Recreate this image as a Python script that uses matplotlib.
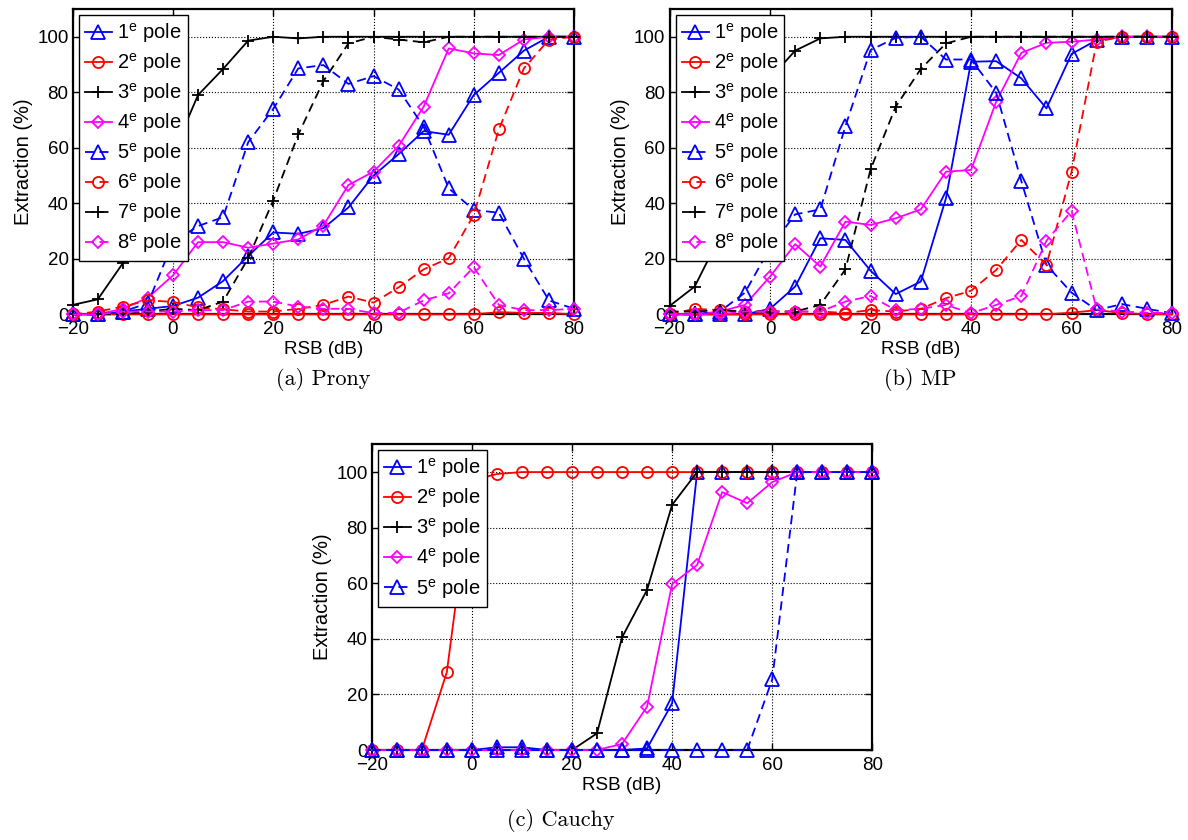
import matplotlib
matplotlib.use('Agg')
import matplotlib.pyplot as plt

plt.rcParams['font.family'] = ['Liberation Sans', 'DejaVu Sans']
plt.rcParams['mathtext.fontset'] = 'custom'
plt.rcParams['mathtext.rm'] = 'Liberation Sans'
plt.rcParams['mathtext.it'] = 'Liberation Sans:italic'

rsb = [-20, -15, -10, -5, 0, 5, 10, 15, 20, 25, 30, 35, 40, 45, 50, 55, 60, 65, 70, 75, 80]

# (a) Prony
prony_p1 = [0, 0, 1, 2, 3, 6, 12, 21, 29.5, 29, 31, 38.5, 50, 57.7, 66, 64.7, 79, 87, 95, 100, 100]
prony_p2 = [0, 0, 0, 0, 0, 0, 0, 0, 0, 0, 0, 0, 0, 0, 0, 0, 0, 0.8, 0.5, 0.5, 0]
prony_p3 = [3.4, 5.4, 18.4, 40, 58, 79, 88.4, 98.6, 100, 99.4, 100, 100, 100, 100, 100, 100, 100, 100, 100, 100, 100]
prony_p4 = [0, 0, 2, 6, 14, 26, 26, 24, 25.5, 27, 32, 46.6, 51.4, 60.6, 74.8, 95.8, 94, 93.4, 99, 100, 100]
prony_p5 = [0, 0, 1, 4, 26, 31.8, 35, 62, 74, 88.6, 89.8, 83, 85.8, 81, 67.6, 45.4, 37.6, 36.6, 20, 5, 2]
prony_p6 = [0, 1, 2.8, 5, 4.5, 2.5, 1.8, 1, 1, 2, 3.4, 6.4, 4.2, 9.7, 16.2, 20.2, 35.8, 66.6, 88.6, 99, 100]
prony_p7 = [0, 0, 0, 1, 2, 1.5, 4.6, 20.2, 41, 64.8, 84, 97.6, 100, 99, 98, 100, 100, 100, 100, 100, 100]
prony_p8 = [0, 0, 1, 1, 1, 1.5, 1.5, 4.6, 4.6, 2.8, 2, 2, 0.4, 0.6, 5, 7.6, 17, 3.4, 1.5, 1.5, 2]

# (b) MP
mp_p1 = [0, 0, 0, 0, 2, 10, 27.4, 26.8, 15.7, 7.3, 11.8, 41.8, 91, 91.2, 85, 74.2, 93.8, 98.8, 100, 100, 100]
mp_p2 = [0, 0, 0, 0, 0, 0, 0, 0, 0, 0, 0, 0, 0, 0, 0, 0, 0.6, 1.5, 0.5, 0, 0]
mp_p3 = [3, 10, 28, 60, 85, 95, 99.4, 100, 100, 100, 100, 100, 100, 100, 100, 100, 100, 100, 100, 100, 100]
mp_p4 = [0, 0, 1, 3.4, 13.6, 25.3, 17.2, 33.4, 32.2, 34.6, 37.8, 51.4, 52, 76.6, 94.2, 97.8, 98.2, 99, 100, 100, 100]
mp_p5 = [0, 0, 1, 7.8, 24, 36, 37.8, 67.8, 95.2, 99.6, 100, 91.8, 91.8, 79.8, 48, 17.8, 7.8, 1.5, 3.7, 2, 0.4]
mp_p6 = [0, 2, 1.5, 1, 1, 1, 1, 0.5, 1.5, 1, 2, 5.8, 8.5, 16, 26.8, 17.8, 51.4, 98.2, 100, 100, 100]
mp_p7 = [1, 1, 1.5, 1, 1, 1, 3.4, 16.2, 52.2, 74.8, 88.4, 97.6, 100, 100, 100, 100, 100, 100, 100, 100, 100]
mp_p8 = [0, 0, 0, 1, 1, 1, 1, 4.6, 6.6, 1.5, 2, 3.4, 0.4, 3.4, 6.6, 26.5, 37.2, 1.8, 1, 0.6, 0.4]

# (c) Cauchy
cau_p1 = [0, 0, 0, 0, 0, 1, 1, 0, 0, 0, 0, 0.6, 16.8, 100, 100, 100, 100, 100, 100, 100, 100]
cau_p2 = [0, 0, 0, 28, 97, 99.3, 100, 100, 100, 100, 100, 100, 100, 100, 100, 100, 100, 100, 100, 100, 100]
cau_p3 = [0, 0, 0, 0, 0, 0, 0, 0, 0, 6, 40.5, 57.6, 88.2, 100, 100, 100, 100, 100, 100, 100, 100]
cau_p4 = [0, 0, 0, 0, 0, 0, 0, 0, 0, 0, 2.2, 15.6, 59.7, 66.6, 92.8, 88.8, 96.4, 100, 100, 100, 100]
cau_p5 = [0, 0, 0, 0, 0, 0, 0, 0, 0, 0, 0, 0, 0, 0, 0, 0, 25.4, 100, 100, 100, 100]

labels = [r'1$^{\mathrm{e}}$ pole', r'2$^{\mathrm{e}}$ pole', r'3$^{\mathrm{e}}$ pole', r'4$^{\mathrm{e}}$ pole',
          r'5$^{\mathrm{e}}$ pole', r'6$^{\mathrm{e}}$ pole', r'7$^{\mathrm{e}}$ pole', r'8$^{\mathrm{e}}$ pole']
styles = [('#0000ff', '^', '-'), ('#ff0000', 'o', '-'), ('#000000', '+', '-'), ('#ff00ff', 'D', '-'),
          ('#0000ff', '^', '--'), ('#ff0000', 'o', '--'), ('#000000', '+', '--'), ('#ff00ff', 'D', '--')]
msizes = {'^': 9.5, 'o': 8, '+': 8, 'D': 6.5}

fig = plt.figure(figsize=(11.88, 8.4), dpi=100)


def panel(rect, series):
    ax = fig.add_axes(rect)
    for i, ys in enumerate(series):
        c, m, ls = styles[i]
        ax.plot(rsb, ys, color=c, marker=m, linestyle=ls, linewidth=1.3,
                markersize=msizes[m], markerfacecolor='none', markeredgewidth=1.3,
                dashes=(5, 3) if ls == '--' else (None, None), label=labels[i],
                clip_on=False, zorder=3 + i * 0.1)
    ax.set_xlim(-20, 80)
    ax.set_ylim(0, 110)
    ax.set_xticks([-20, 0, 20, 40, 60, 80])
    ax.set_yticks([0, 20, 40, 60, 80, 100])
    ax.grid(True, linestyle=':', color='black', linewidth=0.8)
    ax.tick_params(direction='in', top=True, right=True, length=5, width=1, labelsize=13.5)
    ax.tick_params(axis='x', pad=5)
    ax.tick_params(axis='y', pad=3)
    for s in ax.spines.values():
        s.set_linewidth(1.6)
        s.set_zorder(2.5)
    ax.set_xlabel('RSB (dB)', fontsize=13.5, labelpad=2)
    ax.set_ylabel('Extraction (%)', fontsize=14.5, labelpad=3)
    leg = ax.legend(loc='upper left', fontsize=14.5, numpoints=1, fancybox=False,
                    framealpha=1, edgecolor='black', handlelength=1.35, handletextpad=0.25,
                    labelspacing=0.3, borderaxespad=0.3, borderpad=0.3)
    leg.get_frame().set_linewidth(1.0)
    leg.set_zorder(10)
    return ax


panel([0.0612, 0.6258, 0.422, 0.3635],
      [prony_p1, prony_p2, prony_p3, prony_p4, prony_p5, prony_p6, prony_p7, prony_p8])
panel([0.5636, 0.6258, 0.423, 0.3635],
      [mp_p1, mp_p2, mp_p3, mp_p4, mp_p5, mp_p6, mp_p7, mp_p8])
panel([0.3129, 0.1071, 0.4214, 0.364],
      [cau_p1, cau_p2, cau_p3, cau_p4, cau_p5])

fig.text(323 / 1188, 1 - 380 / 840, '(a) Prony', ha='center', va='center', family='cmr10', fontsize=16)
fig.text(920 / 1188, 1 - 380 / 840, '(b) MP', ha='center', va='center', family='cmr10', fontsize=16)
fig.text(561 / 1188, 1 - 820 / 840, '(c) Cauchy', ha='center', va='center', family='cmr10', fontsize=16)

fig.savefig('out.png', dpi=100)
